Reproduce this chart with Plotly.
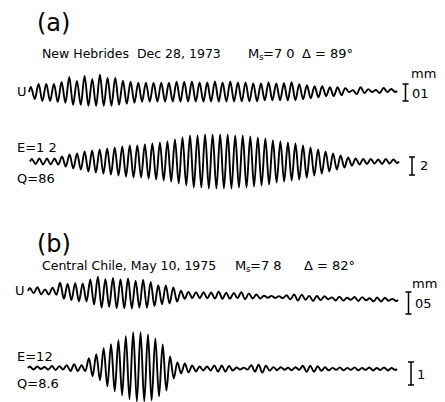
import numpy as np
import plotly.graph_objects as go

# ---------------- data: successive half-cycle extrema (positive = up) ----------------
# (a) New Hebrides, observed vertical (U)
a_u_extrema = [5,-7, 8,-9, 8,-9, 8,-10, 10,-11, 15,-13, 11,-13, 16,-14, 13,-14, 17,-14,
               14,-14, 14,-13, 11,-12, 10,-11, 9,-10, 9,-10, 9,-10, 9,-10, 9,-10, 10,-10,
               10,-10, 10,-10, 9,-10, 9,-10, 10,-10, 9,-10, 10,-10, 9,-10, 9,-10, 8,-10,
               8,-9, 9,-9, 8,-9, 8,-9, 9,-9, 7,-8, 6,-7, 5,-6, 5,-5, 4,-5,
               4,-4, 3,-1, 1,-3, 4,-2, 2,-1, 1,-2, 3,-1, 2,-1]
# (a) synthetic, E=1.2 Q=8.6
a_e_extrema = [2.5,-2.5, 3,-3, 3,-3, 3,-3, 5,-5, 7,-7, 8,-8, 10,-10, 11,-11, 12,-12,
               13,-13, 14,-14, 15,-15, 16,-16, 16,-16, 17,-17, 18,-18, 19,-19, 20,-20, 22,-22,
               24,-24, 26,-26, 26,-26, 27,-27, 27,-27, 27,-27, 27,-27, 26,-26, 26,-26, 25,-25,
               24,-24, 23,-23, 21,-21, 20,-20, 19,-19, 18,-18, 16,-16, 14,-14, 12,-12, 10,-10,
               8,-8, 6,-6, 4,-4, 3,-3, 2.5,-2.5, 2.5,-2, 2,-2.5, 2.5,-2, 2,-1.5]
# (b) Central Chile, observed vertical (U)
b_u_extrema = [3,-2, 4,-3, 2,-3, 4,-3, 9,-7, 8,-8, 9,-9, 9,-9, 13,-12, 16,-15,
               14,-14, 15,-15, 14,-15, 15,-15, 13,-14, 14,-14, 12,-12, 9,-10, 9,-9, 7,-7,
               4,-4, 3,-3, 3,-3, 3,-3, 3,-3, 4,-3, 3,-3, 3,-2, 4,-3, 3,-2,
               2,-2, 1,-1, 1,-1, 1,-1, 2,-2, 3,-3, 3,-2, 2,-3, 2,-2, 2,-1,
               1,-2, 2,-2, 1,-1, 2,-2, 2,-1, 1,-2, 2,-2, 2,-1, 1,-1]
# (b) synthetic, E=1.2 Q=8.6
b_e_extrema = [1.5,-1.5, 1.5,-1, 1,-1.5, 2,-2, 2,-1.5, 3,-3, 4,-3, 3,-3, 10,-8, 14,-12,
               20,-18, 24,-23, 28,-27, 32,-31, 36,-33, 36,-33, 34,-32, 30,-28, 24,-22, 12,-10,
               6,-5, 5,-4, 3,-3, 2,-2, 2,-2, 3,-3, 3,-3, 2.5,-2, 1,-1, 1,-1,
               3.5,-3, 4,-4, 3,-2, 1.5,-1.5, 1.5,-1, 1,-1.5, 1.5,-1, 3,-3, 3,-3, 2.5,-2,
               1.5,-1.5, 1,-1, 1.5,-1.5, 1,-1, 1.5,-1.5, 1,-1, 1.5,-1.5, 1,-1, 1.5,-1.5, 1,-1]

# ---------------- placement (page pixel frame) ----------------
placement = [
    # extrema, x start, x end, baseline at start, baseline at end
    (a_u_extrema, 29, 397, 92, 91),
    (a_e_extrema, 30, 399, 161.5, 161.5),
    (b_u_extrema, 28, 398, 291, 300),
    (b_e_extrema, 28, 397, 368, 369),
]

W, H = 445, 402
INK = "#000000"
FONT = "DejaVu Sans"

fig = go.Figure()
for ext, x0, x1, b0, b1 in placement:
    vals = np.array(ext, dtype=float)
    n = len(vals)
    xs = x0 + (x1 - x0) * (np.arange(n) + 0.5) / n
    xs = np.concatenate([[x0], xs, [x1]])
    vals = np.concatenate([[0.0], vals, [0.0]])
    base = b0 + (b1 - b0) * (xs - x0) / (x1 - x0)
    fig.add_trace(go.Scatter(x=xs, y=base - vals, mode="lines",
                             line=dict(color=INK, width=1.9, shape="spline", smoothing=1.0),
                             hoverinfo="skip", showlegend=False))

def txt(x, y, s, size=13, anchor="left"):
    fig.add_annotation(x=x, y=y, xref="x", yref="y", text=s, showarrow=False,
                       xanchor=anchor, yanchor="middle",
                       font=dict(family=FONT, size=size, color=INK))

def magnitude(x, y, value):
    txt(x, y, "M")
    txt(x + 11, y + 4, "s", size=9)
    txt(x + 15, y, "=" + value)

# panel (a)
txt(35, 23, "(a)", size=24)
txt(40, 53, "New Hebrides  Dec 28, 1973", size=12.5)
magnitude(246, 53, "7 0")
txt(300, 53, "Δ = 89°")
txt(15, 91, "U")
txt(409, 73, "mm")
txt(410, 93, "01")
txt(15, 147, "E=1 2")
txt(15, 178, "Q=86")
txt(418, 165, "2")
# panel (b)
txt(35, 244, "(b)", size=24)
txt(40, 265, "Central Chile, May 10, 1975", size=12.5)
magnitude(233, 265, "7 8")
txt(302, 265, "Δ = 82°")
txt(13, 290, "U")
txt(410, 283, "mm")
txt(413, 303, "05")
txt(15, 356, "E=12")
txt(15, 383, "Q=8.6")
txt(415, 374, "1")

# scale bars
def bar(x, y0, y1, half=3):
    for sh in (dict(x0=x, x1=x, y0=y0, y1=y1),
               dict(x0=x - half, x1=x + half, y0=y0, y1=y0),
               dict(x0=x - half, x1=x + half, y0=y1, y1=y1)):
        fig.add_shape(type="line", xref="x", yref="y", line=dict(color=INK, width=1.5), **sh)

bar(405.5, 84, 101)
bar(412, 157, 175)
bar(408.5, 292, 314)
bar(411, 362, 385)

fig.update_layout(width=W, height=H, margin=dict(l=0, r=0, t=0, b=0),
                  paper_bgcolor="white", plot_bgcolor="white",
                  xaxis=dict(range=[0, W], visible=False, fixedrange=True),
                  yaxis=dict(range=[H, 0], visible=False, fixedrange=True))
fig.write_html("out.html")
